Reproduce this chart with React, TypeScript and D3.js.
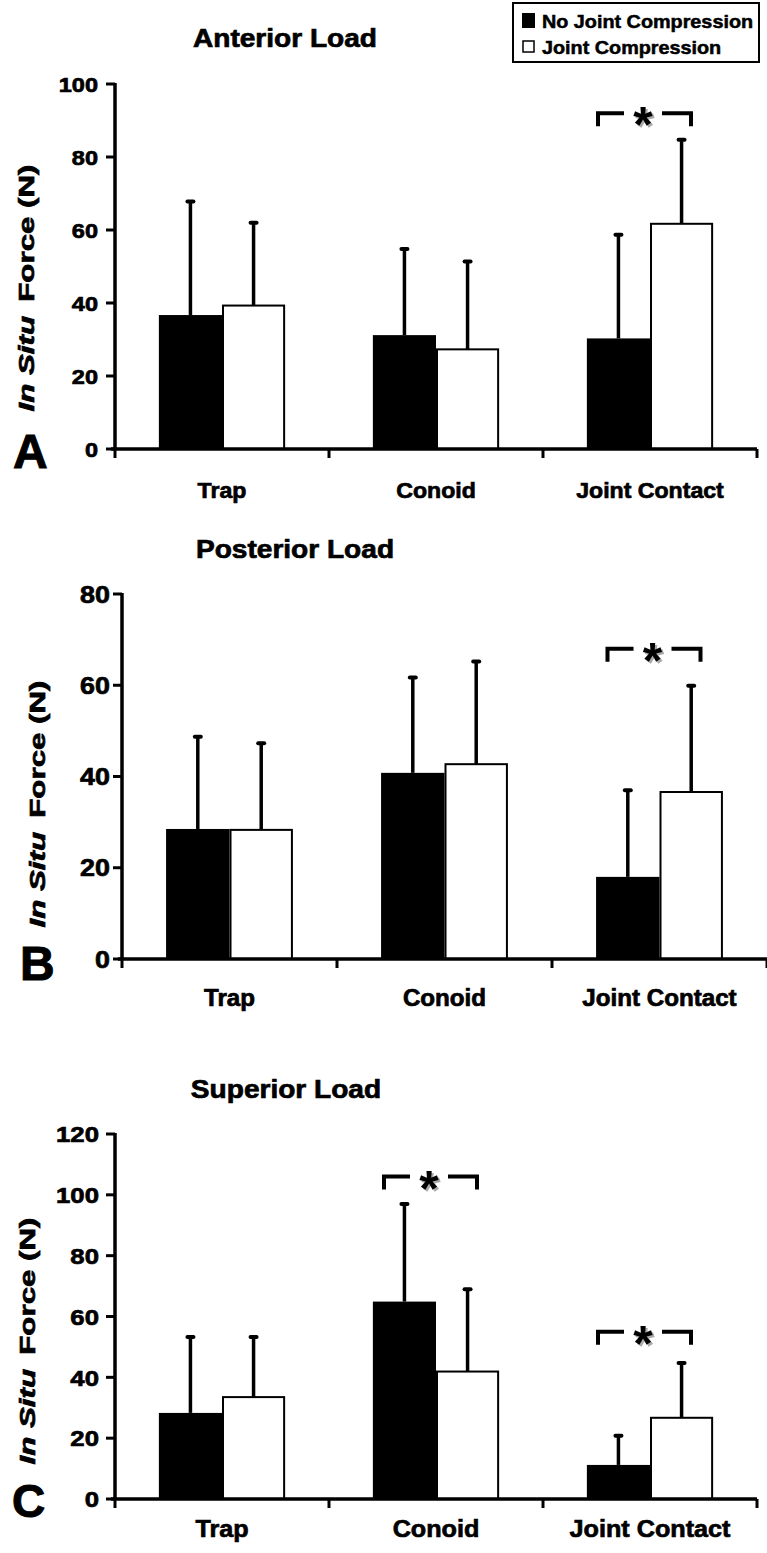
import * as d3 from 'd3';

const categories = ['Trap', 'Conoid', 'Joint Contact'];
const seriesNames = ['No Joint Compression', 'Joint Compression'];

// Anterior load (N), mean and SD
const anteriorNoComp = [36.7, 31.2, 30.3];
const anteriorNoCompSD = [31.1, 23.6, 28.4];
const anteriorComp = [39.3, 27.3, 61.7];
const anteriorCompSD = [22.7, 24.1, 23.0];
const anteriorSig = [{ cat: 'Joint Contact', level: 92 }];

// Posterior load
const posteriorNoComp = [28.5, 40.8, 18.0];
const posteriorNoCompSD = [20.2, 20.9, 19.0];
const posteriorComp = [28.3, 42.7, 36.6];
const posteriorCompSD = [19.0, 22.5, 23.3];
const posteriorSig = [{ cat: 'Joint Contact', level: 68 }];

// Superior load
const superiorNoComp = [28.3, 64.9, 11.2];
const superiorNoCompSD = [25.0, 32.1, 9.6];
const superiorComp = [33.5, 41.9, 26.7];
const superiorCompSD = [19.8, 27.1, 18.0];
const superiorSig = [
  { cat: 'Conoid', level: 106 },
  { cat: 'Joint Contact', level: 55 },
];

const FONT = '"Liberation Sans", Arial, sans-serif';
const fills = ['#000', '#fff'];

const panels = [
  {
    letter: 'A', title: 'Anterior Load', yMax: 100,
    means: [anteriorNoComp, anteriorComp], sds: [anteriorNoCompSD, anteriorCompSD], sig: anteriorSig,
    left: 115, right: 757, top: 84, bottom: 449,
    titleX: 285, titleY: 47, letterX: 13, letterY: 468, letterSize: 48,
    tickSize: 21, tickGap: 17, catY: 498, catSize: 22, yLabX: 34, yLabY: 288,
  },
  {
    letter: 'B', title: 'Posterior Load', yMax: 80,
    means: [posteriorNoComp, posteriorComp], sds: [posteriorNoCompSD, posteriorCompSD], sig: posteriorSig,
    left: 122, right: 767, top: 594, bottom: 959,
    titleX: 295, titleY: 558, letterX: 20, letterY: 980, letterSize: 48,
    tickSize: 24, tickGap: 12, catY: 1006, catSize: 23, yLabX: 45, yLabY: 804,
  },
  {
    letter: 'C', title: 'Superior Load', yMax: 120,
    means: [superiorNoComp, superiorComp], sds: [superiorNoCompSD, superiorCompSD], sig: superiorSig,
    left: 115, right: 757, top: 1134, bottom: 1499,
    titleX: 286, titleY: 1098, letterX: 12, letterY: 1517, letterSize: 46,
    tickSize: 23, tickGap: 16, catY: 1537, catSize: 24, yLabX: 35, yLabY: 1341,
  },
];

// bold text, slightly widened and thickened like the scanned figure
function T({ x, y, size, anchor = 'start', sx = 1.08, children, fill = '#000', sw = 0.7 }) {
  return (
    <text
      transform={`translate(${x},${y}) scale(${sx},1)`}
      textAnchor={anchor}
      fontSize={size}
      fontWeight="bold"
      fill={fill}
      stroke={fill}
      strokeWidth={sw}
    >
      {children}
    </text>
  );
}

function Panel({ p }) {
  const y = d3.scaleLinear().domain([0, p.yMax]).range([p.bottom, p.top]);
  const x = d3
    .scaleBand()
    .domain(categories)
    .range([p.left, p.right])
    .paddingInner(0.41)
    .paddingOuter(0.205);
  const xs = d3.scaleBand().domain(seriesNames).range([0, x.bandwidth()]);
  const yTicks = d3.range(0, p.yMax + 1, 20);
  const bounds = d3.range(categories.length + 1).map((i) => p.left + i * x.step());

  return (
    <g>
      <T x={p.titleX} y={p.titleY} size={26} anchor="middle">{p.title}</T>
      <T x={p.letterX} y={p.letterY} size={p.letterSize} sx={1} sw={1}>{p.letter}</T>

      {/* y label */}
      <text
        transform={`translate(${p.yLabX},${p.yLabY}) rotate(-90)`}
        textAnchor="middle"
        fontSize={22}
        fontWeight="bold"
        stroke="#000"
        strokeWidth={0.7}
        textLength={247}
        lengthAdjust="spacingAndGlyphs"
      >
        <tspan fontStyle="italic">In Situ</tspan>
        <tspan dx={10}>Force (N)</tspan>
      </text>

      {/* bars */}
      {seriesNames.map((s, si) =>
        categories.map((c, ci) => {
          const bx = x(c) + xs(s);
          const inset = si === 1 ? 1 : 0;
          return (
            <rect
              key={s + c}
              x={bx + inset}
              y={y(p.means[si][ci])}
              width={xs.bandwidth() - inset * 2}
              height={y(0) - y(p.means[si][ci])}
              fill={fills[si]}
              stroke="#000"
              strokeWidth={si === 1 ? 2 : 0}
            />
          );
        })
      )}

      {/* error bars */}
      {seriesNames.map((s, si) =>
        categories.map((c, ci) => {
          const cx = x(c) + xs(s) + xs.bandwidth() / 2;
          const y0 = y(p.means[si][ci]);
          const y1 = y(p.means[si][ci] + p.sds[si][ci]);
          return (
            <g key={'e' + s + c} stroke="#000">
              <line x1={cx} x2={cx} y1={y0} y2={y1} strokeWidth={3.5} />
              <line x1={cx - 3} x2={cx + 3} y1={y1} y2={y1} strokeWidth={4} strokeLinecap="round" />
            </g>
          );
        })
      )}

      {/* x axis */}
      <line x1={p.left - 4} x2={p.right} y1={p.bottom} y2={p.bottom} stroke="#000" strokeWidth={3.5} />
      {bounds.map((bx) => (
        <line key={bx} x1={bx} x2={bx} y1={p.bottom} y2={p.bottom + 9} stroke="#000" strokeWidth={3} />
      ))}
      {categories.map((c) => (
        <T key={c} x={x(c) + x.bandwidth() / 2} y={p.catY} size={p.catSize} anchor="middle" sx={1.05}>
          {c}
        </T>
      ))}

      {/* y axis */}
      <line x1={p.left} x2={p.left} y1={p.top - 1} y2={p.bottom} stroke="#000" strokeWidth={3.5} />
      {yTicks.map((t) => (
        <g key={t}>
          <line x1={p.left - 9} x2={p.left} y1={y(t)} y2={y(t)} stroke="#000" strokeWidth={3} />
          <T x={p.left - p.tickGap} y={y(t) + p.tickSize * 0.36} size={p.tickSize} anchor="end" sx={1.12}>
            {t}
          </T>
        </g>
      ))}

      {/* significance brackets */}
      {p.sig.map((sg) => {
        const gc = x(sg.cat) + x.bandwidth() / 2;
        const by = y(sg.level);
        const l = gc - 52;
        const r = gc + 41;
        const ac = gc - 7;
        return (
          <g key={sg.cat}>
            <path
              d={`M${l},${by + 13}V${by}H${ac - 19}M${ac + 19},${by}H${r}V${by + 13}`}
              fill="none"
              stroke="#000"
              strokeWidth={4}
            />
            <text x={ac + 2} y={by + 31} textAnchor="middle" fontSize={50} fontWeight="bold" fill="#aaa">*</text>
            <text x={ac} y={by + 29} textAnchor="middle" fontSize={50} fontWeight="bold" fill="#000">*</text>
          </g>
        );
      })}
    </g>
  );
}

export default function App() {
  return (
    <svg
      width={767}
      height={1553}
      style={{ position: 'absolute', left: 0, top: 0, background: '#fff' }}
      fontFamily={FONT}
    >
      <rect width={767} height={1553} fill="#fff" />
      {/* legend */}
      <g>
        <rect x={513} y={3} width={246} height={59} fill="#fff" stroke="#000" strokeWidth={2} />
        <rect x={522} y={13} width={13} height={15} fill="#000" />
        <T x={542} y={28} size={18} sx={1.1} sw={0.5}>{seriesNames[0]}</T>
        <rect x={523} y={41} width={11} height={11} fill="#fff" stroke="#000" strokeWidth={1.5} />
        <T x={542} y={54} size={18} sx={1.1} sw={0.5}>{seriesNames[1]}</T>
      </g>
      {panels.map((p) => (
        <Panel key={p.letter} p={p} />
      ))}
    </svg>
  );
}
